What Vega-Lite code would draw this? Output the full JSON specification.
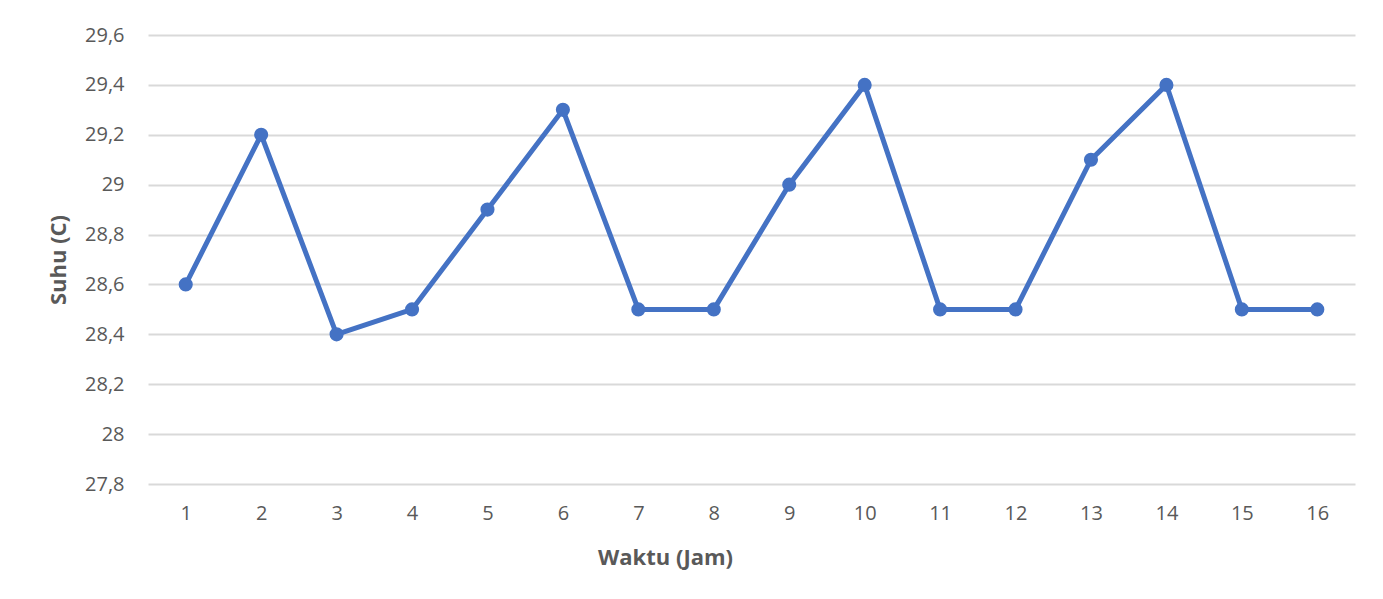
{
  "$schema": "https://vega.github.io/schema/vega-lite/v6.json",
  "autosize": {"type": "none"},
  "width": 1207,
  "height": 449,
  "padding": {"left": 148, "top": 35, "right": 28, "bottom": 115},
  "background": "white",
  "config": {
    "view": {"stroke": null},
    "font": "Open Sans",
    "axis": {
      "labelFont": "Open Sans",
      "titleFont": "Open Sans",
      "labelColor": "#595959",
      "titleColor": "#595959",
      "labelFontSize": 20,
      "titleFontSize": 22,
      "titleFontWeight": "bold",
      "gridColor": "#D9D9D9",
      "gridWidth": 2,
      "domain": false,
      "ticks": false
    }
  },
  "data": {
    "values": [
      {"jam": 1, "suhu": 28.6},
      {"jam": 2, "suhu": 29.2},
      {"jam": 3, "suhu": 28.4},
      {"jam": 4, "suhu": 28.5},
      {"jam": 5, "suhu": 28.9},
      {"jam": 6, "suhu": 29.3},
      {"jam": 7, "suhu": 28.5},
      {"jam": 8, "suhu": 28.5},
      {"jam": 9, "suhu": 29.0},
      {"jam": 10, "suhu": 29.4},
      {"jam": 11, "suhu": 28.5},
      {"jam": 12, "suhu": 28.5},
      {"jam": 13, "suhu": 29.1},
      {"jam": 14, "suhu": 29.4},
      {"jam": 15, "suhu": 28.5},
      {"jam": 16, "suhu": 28.5}
    ]
  },
  "mark": {"type": "line", "color": "#4472C4", "strokeWidth": 5, "point": {"filled": true, "color": "#4472C4", "size": 200, "opacity": 1}},
  "encoding": {
    "x": {
      "field": "jam",
      "type": "ordinal",
      "scale": {"type": "point", "padding": 0.5},
      "axis": {"title": "Waktu (Jam)", "labelAngle": 0, "labelPadding": 19, "titlePadding": 24, "grid": false, "titleX": 517}
    },
    "y": {
      "field": "suhu",
      "type": "quantitative",
      "scale": {"domain": [27.8, 29.6], "nice": false, "zero": false},
      "axis": {
        "title": "Suhu (C)",
        "values": [27.8, 28, 28.2, 28.4, 28.6, 28.8, 29, 29.2, 29.4, 29.6],
        "labelExpr": "replace(format(datum.value, '.3~r'), '.', ',')",
        "labelPadding": 24,
        "titlePadding": 14
      }
    }
  }
}
